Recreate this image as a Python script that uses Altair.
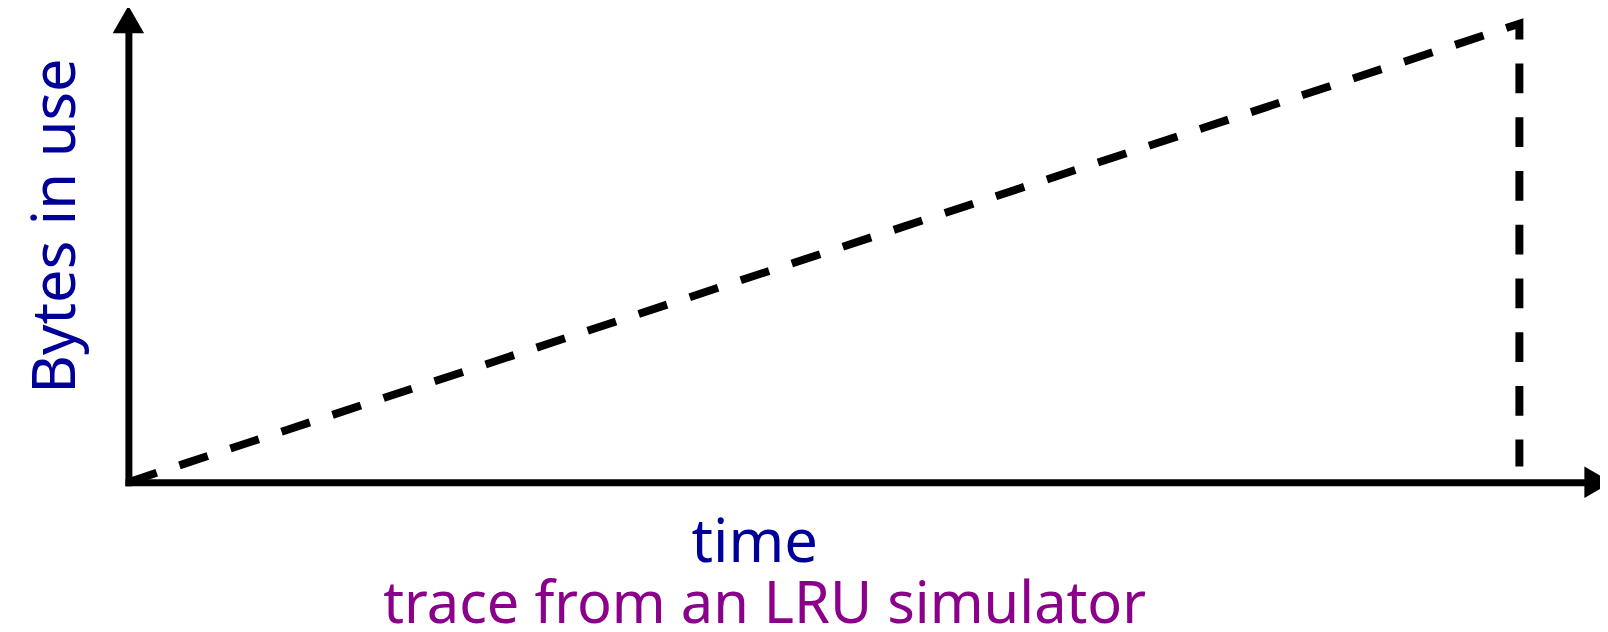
import altair as alt
import pandas as pd

# trace (time, bytes in use)
trace_time = [0.0, 94.65, 94.65]
trace_bytes = [0.0, 99.1, 3.4]
trace_order = [0, 1, 2]

# axis arrow heads
arrow_time = [0.0, 100.0]
arrow_bytes = [100.0, 0.0]
arrow_shape = ["triangle-up", "triangle-right"]

x_title = "time"
y_title = "Bytes in use"
subtitle = "trace from an LRU simulator"

BLUE = "#000099"
PURPLE = "#8B008B"
FONT = "Noto Sans"

trace = pd.DataFrame({"t": trace_time, "b": trace_bytes, "o": trace_order})
arrows = pd.DataFrame({"t": arrow_time, "b": arrow_bytes, "s": arrow_shape})

xscale = alt.Scale(domain=[0, 100], nice=False, zero=False)
yscale = alt.Scale(domain=[0, 100], nice=False, zero=False)

xaxis = alt.Axis(
    title=x_title, labels=False, ticks=False, grid=False,
    domainColor="black", domainWidth=7, domainCap="square",
    titleColor=BLUE, titleFont=FONT, titleFontSize=60, titleFontWeight="normal",
    titleX=629, titleY=80, titleAlign="center", titleBaseline="alphabetic",
)
yaxis = alt.Axis(
    title=y_title, labels=False, ticks=False, grid=False,
    domainColor="black", domainWidth=7, domainCap="square",
    titleColor=BLUE, titleFont=FONT, titleFontSize=60, titleFontWeight="normal",
    titleX=-54, titleY=207, titleAngle=270, titleAlign="center", titleBaseline="alphabetic",
)

line = alt.Chart(trace).mark_line(
    color="black", strokeWidth=8, strokeDash=[30, 24], strokeCap="butt", clip=False
).encode(
    x=alt.X("t:Q", scale=xscale, axis=xaxis),
    y=alt.Y("b:Q", scale=yscale, axis=yaxis),
    order="o:Q",
)

heads = alt.Chart(arrows).mark_point(
    filled=True, color="black", size=1000, opacity=1, clip=False
).encode(
    x=alt.X("t:Q", scale=xscale),
    y=alt.Y("b:Q", scale=yscale),
    shape=alt.Shape("s:N", scale=None, legend=None),
)

chart = alt.layer(line, heads).properties(
    width=1477,
    height=465,
    padding={"left": 121, "top": 10, "right": 2, "bottom": 149},
    autosize=alt.AutoSizeParams(type="none"),
    background="white",
    title=alt.TitleParams(
        subtitle, orient="bottom", anchor="middle", color=PURPLE, font=FONT,
        fontSize=58, fontWeight="normal", baseline="alphabetic", dx=-99, offset=50,
    ),
).configure_view(stroke=None)

chart.save("out.html", embed_options={"renderer": "svg", "actions": False})
